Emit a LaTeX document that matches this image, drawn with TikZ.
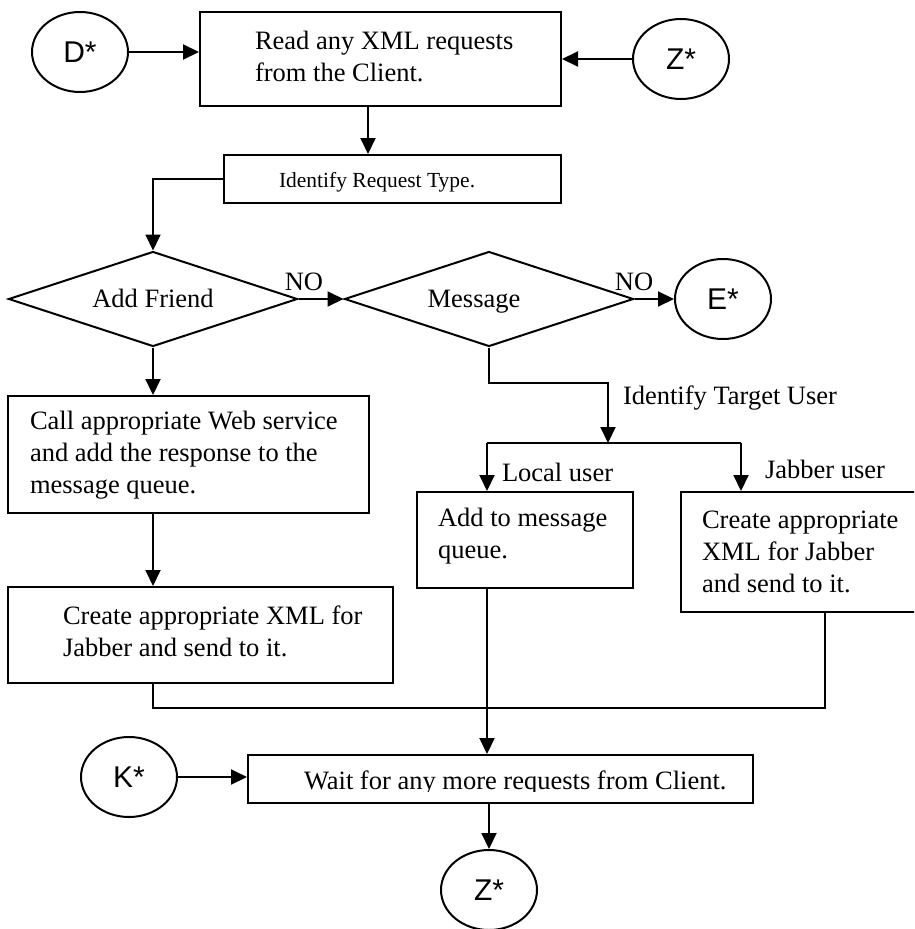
\documentclass[tikz,border=0pt]{standalone}
\usepackage{fontspec}
\setmainfont{Liberation Serif}
\newfontfamily\arialf{Liberation Sans}
\usetikzlibrary{arrows.meta,shapes.geometric}
\begin{document}
\begin{tikzpicture}[x=1pt,y=-1pt,line width=2pt,
  box/.style={draw, rectangle, inner sep=0pt},
  oval/.style={draw, ellipse, minimum width=96pt, minimum height=80pt, inner sep=0pt,
               font=\arialf\fontsize{30}{36}\selectfont},
  choice/.style={draw, diamond, minimum width=289pt, minimum height=95pt, inner sep=0pt},
  txt/.style={inner sep=0pt, anchor=west, align=left, font=\fontsize{26.5}{32}\selectfont},
  lbl/.style={inner sep=0pt, font=\fontsize{26.5}{32}\selectfont},
  arr/.style={-{Triangle[length=16pt,width=15pt]}},
]
\useasboundingbox (0,0) rectangle (914,929);
\clip (0,0) rectangle (914,929);

% ---- boxes ----
\node[box, minimum width=361pt, minimum height=94pt]  (read)  at (380.5,59)  {};
\node[box, minimum width=337pt, minimum height=48pt]  (ident) at (392.5,179) {};
\node[box, minimum width=361pt, minimum height=117pt] (call)  at (188.5,454.5) {};
\node[box, minimum width=385pt, minimum height=96pt]  (xmlA)  at (200.5,635) {};
\node[box, minimum width=216pt, minimum height=96pt]  (addq)  at (525,540) {};
\node[box, minimum width=249pt, minimum height=120pt] (jab)   at (805.5,552) {};
\node[box, minimum width=505pt, minimum height=48pt]  (wait)  at (500.5,779) {};

% ---- box texts ----
\node[txt] (readT)  at (254,56)    {Read any XML requests\\from the Client.};
\node[txt, font=\fontsize{21.5}{26}\selectfont] (identT) at (278,182) {Identify Request Type.};
\node[txt] (callT)  at (29,455.5)  {Call appropriate Web service\\and add the response to the\\message queue.};
\node[txt] (xmlAT)  at (62,631)    {Create appropriate XML for\\Jabber and send to it.};
\node[txt] (addqT)  at (437,536)   {Add to message\\queue.};
\node[txt] (jabT)   at (701,551.5) {Create appropriate\\XML for Jabber\\and send to it.};
\begin{scope}
  \clip (248,755) rectangle (753,791);
  \node[txt] (waitT) at (303,783) {Wait for any more requests from Client.};
\end{scope}

% ---- decisions ----
\node[choice] (addf) at (153,299) {};
\node[choice] (msg)  at (489,299) {};
\node[lbl, anchor=base] (addfT) at (153,307) {Add Friend};
\node[lbl, anchor=base] (msgT)  at (474,307) {Message};

% ---- connectors (off-page references) ----
\node[oval] (dIn)  at (80,52)   {D*};
\node[oval] (zIn)  at (681,59)  {Z*};
\node[oval] (eOut) at (723,299) {E*};
\node[oval] (kIn)  at (129,777) {K*};
\node[oval] (zOut) at (489,890) {Z*};

% ---- flow ----
\draw[arr] (dIn) -- (dIn -| read.west);
\draw[arr] (zIn) -- (zIn -| read.east);
\draw[arr] ([xshift=-12.5pt]read.south) -- ([xshift=-12.5pt]read.south |- ident.north);
\draw[arr] (ident.west) -| (addf.north);

\draw[arr] (addf.east) -- (msg.west);
\node[lbl] (no1) at (304,282) {NO};
\draw[arr] (msg.east) -- (eOut.west);
\node[lbl] (no2) at (634,282) {NO};

\draw[arr] (addf.south) -- (addf.south |- call.north);
\draw[arr] (addf.south |- call.south) -- (addf.south |- xmlA.north);

% target user split
\coordinate (split) at (608,443);
\coordinate (bl) at (487,443);
\coordinate (br) at (741,443);
\draw[arr] (msg.south) -- ++(0,35) -| (split);
\node[txt] (tgtT) at (622,398) {Identify Target User};
\draw (bl) -- (br);
\draw[arr] (bl) -- (bl |- addq.north);
\draw[arr] (br) -- (br |- jab.north);
\node[txt] (locT) at (501,472) {Local user};
\node[txt] (jabU) at (764,469) {Jabber user};

% merge into the wait step
\coordinate (mj) at (825,708);
\draw (addf.south |- xmlA.south) |- (mj) -- (mj |- jab.south);
\draw[arr] (bl |- addq.south) -- (bl |- wait.north);
\draw[arr] (kIn) -- (kIn -| wait.west);
\draw[arr] (zOut.north |- wait.south) -- (zOut.north);
\end{tikzpicture}
\end{document}
